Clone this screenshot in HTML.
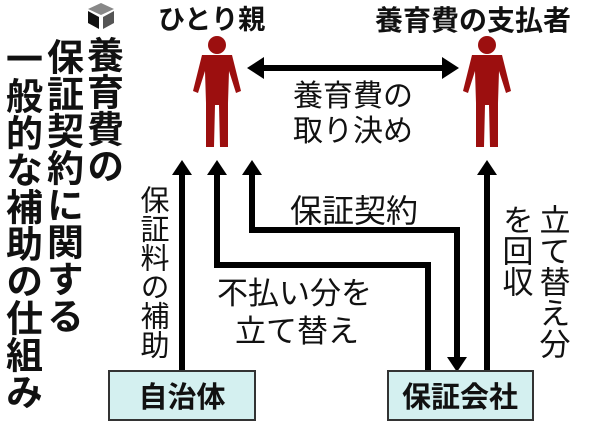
<!DOCTYPE html>
<html><head><meta charset="utf-8"><style>
html,body{margin:0;padding:0;background:#fff;}
svg{display:block;}
text{font-family:"Liberation Sans","Noto Sans CJK JP",sans-serif;fill:#111;}
.b{font-weight:bold;}
</style></head><body>
<svg width="600" height="424" viewBox="0 0 600 424" xmlns="http://www.w3.org/2000/svg">
<defs>
<g id="p">
<circle cx="0" cy="-2" r="9" fill="#9c0f0f"/>
<path d="M-15 8 L15 8 L24 44 L19 46 L12 24 L11 56 L11 100 L3 100 L2 58 L-2 58 L-3 100 L-11 100 L-11 56 L-12 24 L-19 46 L-24 44 Z" fill="#9c0f0f"/>
</g>
</defs>
<polygon points="101,3 114,9 101,15 88,9" fill="#888"/>
<polygon points="88,11 99,17 99,29 88,23" fill="#111"/>
<polygon points="103,17 114,11 114,23 103,29" fill="#555"/>
<g class="b" font-size="37">
<text style="writing-mode:vertical-rl" writing-mode="tb" transform="translate(21,40)">一般的な補助の仕組み</text>
<text writing-mode="tb" style="writing-mode:vertical-rl" transform="translate(62,38)">保証契約に関する</text>
<text writing-mode="tb" style="writing-mode:vertical-rl" transform="translate(102,36)">養育費の</text>
</g>
<text class="b" x="158" y="29" font-size="27">ひとり親</text>
<text class="b" x="375" y="30" font-size="28">養育費の支払者</text>
<use href="#p" x="217" y="47"/>
<use href="#p" x="487" y="47"/>
<line x1="262" y1="68" x2="444" y2="68" stroke="#000" stroke-width="6"/>
<polygon points="247,68 264,57 264,79" fill="#000"/>
<polygon points="459,68 442,57 442,79" fill="#000"/>
<text x="293" y="106" font-size="30">養育費の</text>
<text x="293" y="141" font-size="30">取り決め</text>
<g stroke="#000" stroke-width="6" fill="none">
<line x1="182" y1="172" x2="182" y2="371"/>
<polyline points="217,172 217,265 428,265 428,371"/>
<polyline points="252,172 252,230 457,230 457,358"/>
<line x1="487" y1="172" x2="487" y2="371"/>
</g>
<g fill="#000">
<polygon points="182,160 172,175 192,175"/>
<polygon points="217,160 207,175 227,175"/>
<polygon points="252,160 242,175 262,175"/>
<polygon points="487,160 477,175 497,175"/>
<polygon points="457,372 447,357 467,357"/>
</g>
<text font-size="29" style="writing-mode:vertical-rl" writing-mode="tb" transform="translate(152,185)">保証料の補助</text>
<text x="290" y="222" font-size="32">保証契約</text>
<text x="217" y="304" font-size="31">不払い分を</text>
<text x="235" y="342" font-size="31">立て替え</text>
<text font-size="31" style="writing-mode:vertical-rl" writing-mode="tb" transform="translate(552,204)">立て替え分</text>
<text font-size="31" style="writing-mode:vertical-rl" writing-mode="tb" transform="translate(515,204)">を回収</text>
<rect x="109" y="371" width="146" height="49" fill="#d4f0f0" stroke="#333" stroke-width="2"/>
<text class="b" x="182" y="407" font-size="29" text-anchor="middle">自治体</text>
<rect x="388" y="371" width="145" height="49" fill="#d4f0f0" stroke="#333" stroke-width="2"/>
<text class="b" x="460" y="407" font-size="29" text-anchor="middle">保証会社</text>
</svg>
</body></html>
